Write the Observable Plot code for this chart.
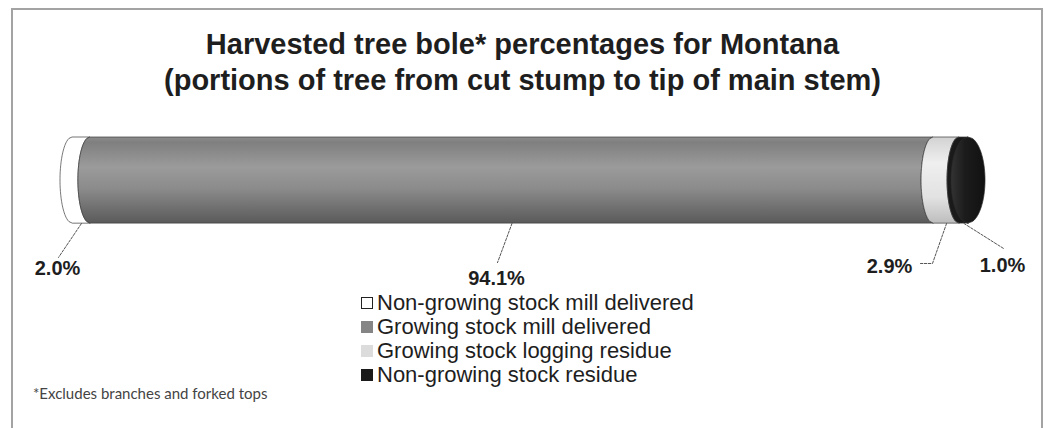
<!DOCTYPE html>
<html><head><meta charset="utf-8">
<script src="https://cdn.jsdelivr.net/npm/d3@7"></script>
<script src="https://cdn.jsdelivr.net/npm/@observablehq/plot@0.6"></script>
<style>
body{margin:0;background:#fff;font-family:"Liberation Sans",Arial,sans-serif;}
#wrap{position:relative;width:1045px;height:428px;overflow:hidden;background:#fff;}
#frame{position:absolute;left:11px;top:8px;width:1028px;height:440px;border:2px solid #a3a3a3;border-bottom:none;}
#title{position:absolute;left:0;top:26px;width:1045px;text-align:center;font-weight:bold;font-size:29px;line-height:36px;color:#1e1e1e;}
#chart{position:absolute;left:0;top:115px;}
#legend{position:absolute;left:361px;top:291px;font-size:22px;color:#1e1e1e;}
.row{display:flex;align-items:center;height:24px;white-space:nowrap;}
.sw{width:12px;height:12px;margin-right:4px;box-sizing:border-box;}
#note{position:absolute;left:33px;top:384px;font-family:Lato,sans-serif;font-size:15px;color:#444;}
</style></head>
<body><div id="wrap"><div id="frame"></div><div id="title"></div><div id="chart"></div><div id="legend"></div><div id="note"></div></div>
<script>
// ---- data ----
const titleLines = ["Harvested tree bole* percentages for Montana", "(portions of tree from cut stump to tip of main stem)"];
const categories = ["Non-growing stock mill delivered", "Growing stock mill delivered", "Growing stock logging residue", "Non-growing stock residue"];
const percentages = [2.0, 94.1, 2.9, 1.0];
const valueLabels = ["2.0%", "94.1%", "2.9%", "1.0%"];
const footnote = "*Excludes branches and forked tops";

// ---- styles / layout (not data) ----
const fills = ["#ffffff", "#858585", "#dcdcdc", "#1a1a1a"];
const legendSwatch = ["#ffffff", "#858585", "#dcdcdc", "#1a1a1a"];
const xRange = [72, 968];
const pxPerUnit = (xRange[1] - xRange[0]) / 100;
const toX = px => (px - xRange[0]) / pxPerUnit;          // layout helper: pixel -> x units
const labelX = [57, 496, 889, 1002].map(toX);
const labelY = [-2.05, -2.28, -2.0, -1.98];
const leaderEnd = [[[58, -1.79]], [[497, -1.91]], [[932, -1.93], [920, -1.93]], [[1003, -1.58]]];
const rxBody = 12 / pxPerUnit, rxCap = 17 / pxPerUnit;

document.getElementById("title").innerHTML = titleLines.join("<br>");
document.getElementById("note").textContent = footnote;
document.getElementById("legend").innerHTML = categories.map((c, i) =>
  `<div class="row"><div class="sw" style="background:${legendSwatch[i]};border:1px solid ${i===0?"#222":legendSwatch[i]}"></div>${c}</div>`).join("");

// stacked segments
const ends = d3.cumsum(percentages);
const segs = percentages.map((p, i) => ({i, start: ends[i] - p, end: ends[i], center: ends[i] - p / 2, label: valueLabels[i]}));
const ts = d3.range(61).map(k => -1 + 2 * k / 60);
const half = y => Math.sqrt(Math.max(0, 1 - y * y));

const segMarks = segs.map(s => Plot.areaX(
  ts.map(y => ({y, x1: s.start - rxBody * half(y), x2: s.end - rxBody * half(y)})),
  {y: "y", x1: "x1", x2: "x2", fill: fills[s.i], stroke: "#3a3a3a", strokeWidth: 0.7, curve: "linear"}));
const capMark = Plot.areaX(
  ts.map(y => ({y, x1: 100 - rxCap * half(y), x2: 100 + rxCap * half(y)})),
  {y: "y", x1: "x1", x2: "x2", fill: "#1b1b1b", stroke: "#2a2a2a", strokeWidth: 0.7});

const leaderRows = segs.flatMap(s => [{seg: s.i, x: s.center, y: -1}, ...leaderEnd[s.i].map(([px, y]) => ({seg: s.i, x: toX(px), y}))]);

const svg = Plot.plot({
  width: 1045, height: 175, margin: 0,
  style: {background: "transparent", overflow: "visible"},
  x: {domain: [0, 100], range: xRange, axis: null},
  y: {domain: [-1, 1], range: [108, 22], axis: null},
  marks: [
    ...segMarks,
    capMark,
    Plot.line(leaderRows, {x: "x", y: "y", z: "seg", stroke: "#555", strokeWidth: 1, strokeDasharray: "2.5,1.5", curve: "linear"}),
    Plot.text(segs, {x: (d) => labelX[d.i], y: (d) => labelY[d.i], text: "label", fontSize: 20, fontWeight: "bold",
      fill: "#1e1e1e", fontFamily: "Liberation Sans, Arial, sans-serif"})
  ]
});

const defs = d3.select(svg).insert("defs", ":first-child");
function grad(id, stops, horiz) {
  const g = defs.append("linearGradient").attr("id", id).attr("x1", 0).attr("y1", 0).attr("x2", horiz ? 1 : 0).attr("y2", horiz ? 0 : 1);
  stops.forEach(([o, c]) => g.append("stop").attr("offset", o).attr("stop-color", c));
}
grad("gGray", [[0, "#8c8c8c"], [0.06, "#7f7f7f"], [0.35, "#9b9b9b"], [0.6, "#8b8b8b"], [1, "#5a5a5a"]]);
grad("gLight", [[0, "#d2d2d2"], [0.3, "#efefef"], [0.7, "#e2e2e2"], [1, "#bdbdbd"]]);
grad("gBlack", [[0, "#333"], [0.4, "#1c1c1c"], [1, "#111"]], true);
d3.select(svg).selectAll('[fill="#858585"]').attr("fill", "url(#gGray)");
d3.select(svg).selectAll('[fill="#dcdcdc"]').attr("fill", "url(#gLight)");
d3.select(svg).selectAll('[fill="#1b1b1b"]').attr("fill", "url(#gBlack)");
document.getElementById("chart").appendChild(svg);
</script>
</body></html>
